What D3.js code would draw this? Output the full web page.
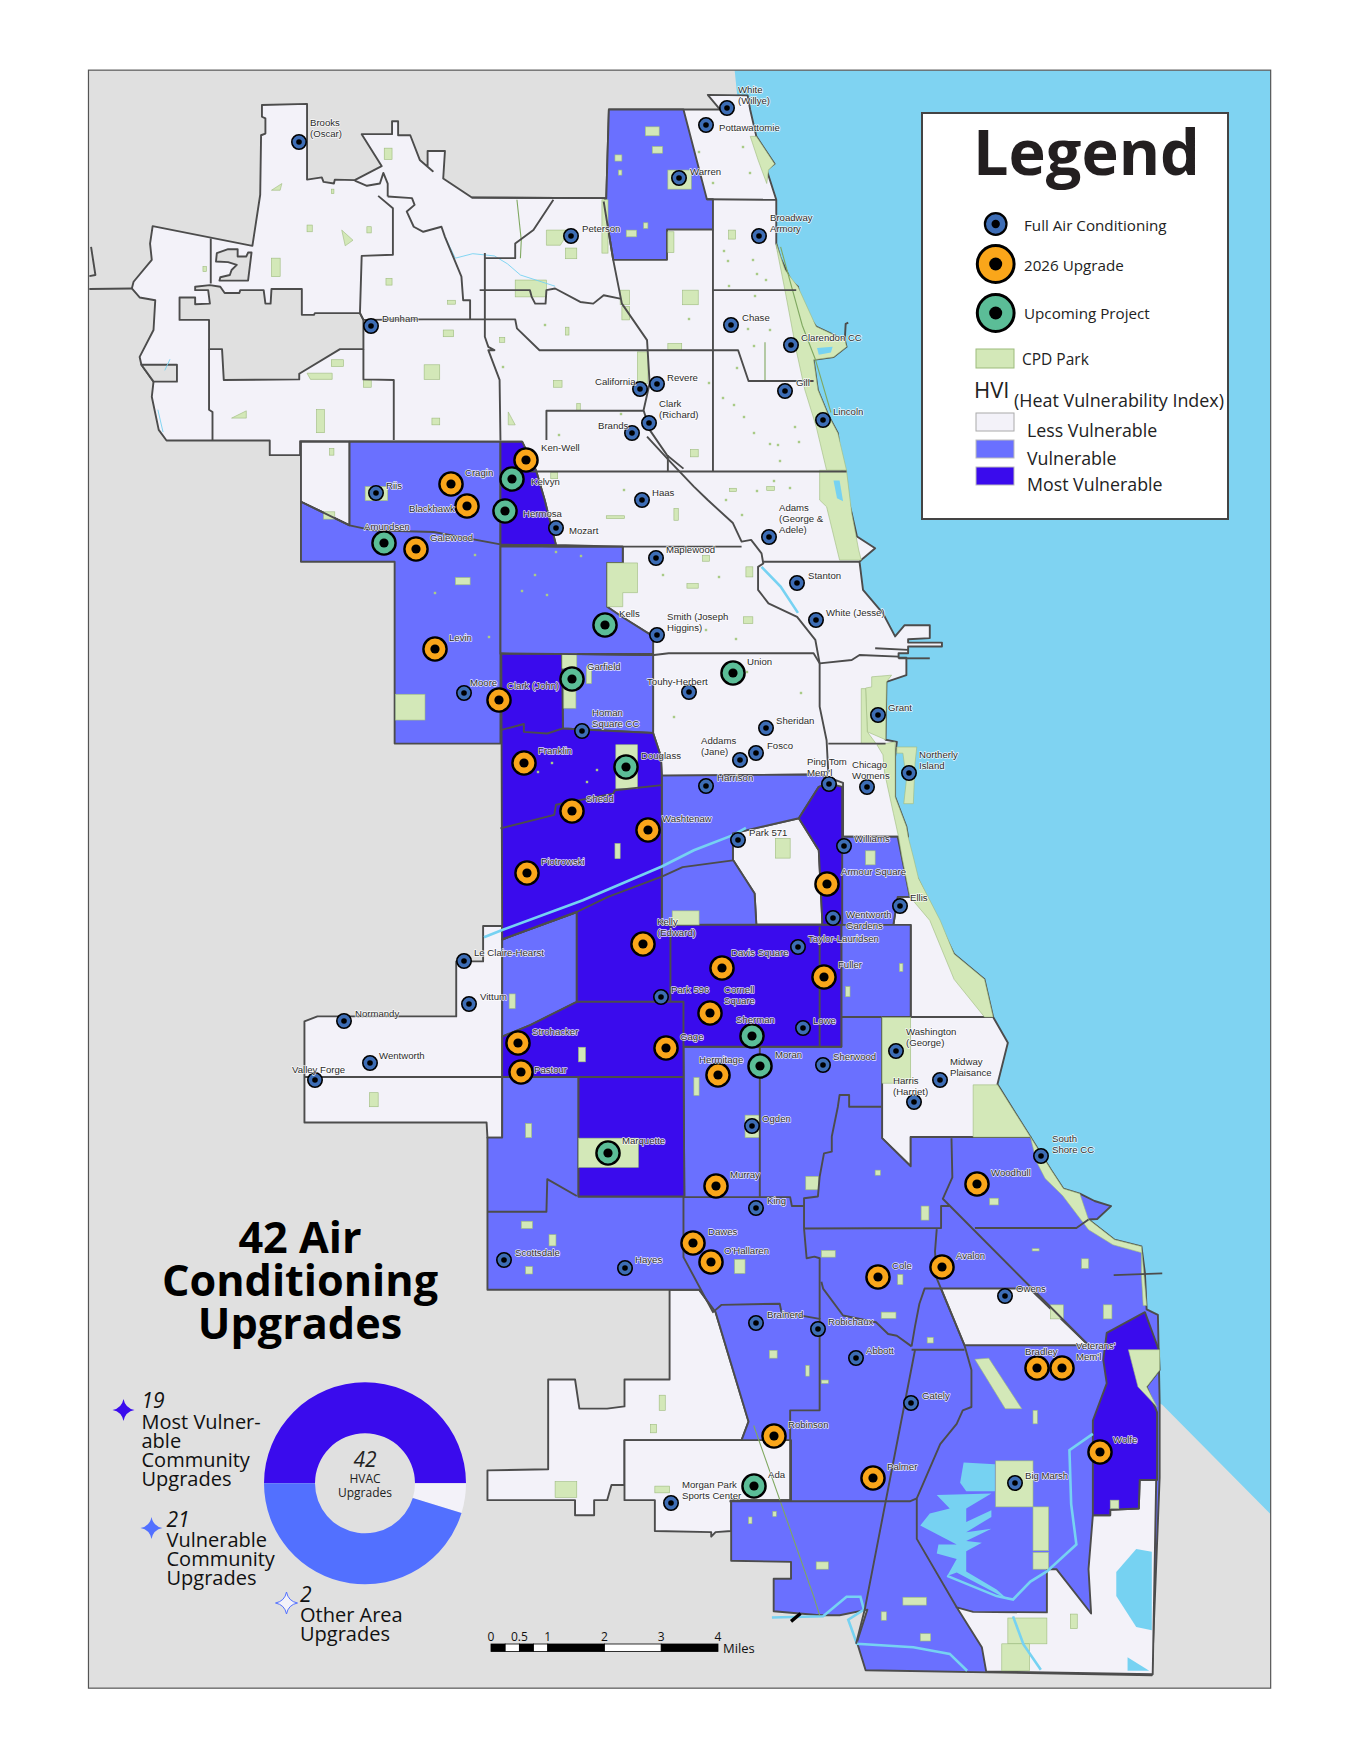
<!DOCTYPE html>
<html>
<head>
<meta charset="utf-8">
<script src="https://cdn.jsdelivr.net/npm/d3@7"></script>
<style>
  body { margin: 0; background: #fff; }
  svg { display: block; }
  text { font-family: "Open Sans", "Noto Sans", sans-serif; }
  .site-label { font-family: "Liberation Sans", Arial, sans-serif; font-size: 9.6px; fill: #2b2b2b;
    stroke: #fff; stroke-width: 1.4px; stroke-opacity: 0.85; paint-order: stroke; stroke-linejoin: round; }
</style>
</head>
<body>
<svg id="map" width="1360" height="1760"></svg>
<script>
// boundaries are in survey sheet units, sites and park dots are in page units
const lake = [[847,125],[1465,125],[1465,2698],[1340,2503],[1336,2500],[1325,2340],[1300,2300],[1270,2200],[1190,2100],[1140,2026],[1130,1820],[1030,1700],[1040,1568],[1025,1490],[1020,1330],[1020,1215],[1000,1100],[985,1000],[965,905],[955,840],[940,735],[925,680],[915,580],[900,510],[890,440],[880,355],[860,250],[850,170]];

const lessAreas = [
  [[176,403],[173,434],[175,463],[154,502],[152,514],[161,530],[179,535],[177,588],[161,636],[163,650],[177,680],[175,707],[183,766],[192,785],[311,785],[311,811],[346,811],[346,786],[577,787],[602,787],[618,838],[628,891],[641,971],[718,974],[718,1003],[700,1003],[700,1081],[717,1099],[753,1134],[753,1306],[762,1348],[763,1382],[948,1380],[955,1385],[972,1395],[972,1491],[1047,1491],[1045,1473],[1032,1420],[1032,1348],[1034,1322],[1021,1318],[1022,1215],[1045,1203],[1045,1172],[1036,1172],[1036,1164],[1047,1164],[1047,1152],[1086,1152],[1086,1145],[1047,1145],[1047,1139],[1072,1137],[1072,1114],[1043,1114],[1032,1134],[1018,1093],[995,1051],[991,1001],[995,995],[1009,977],[988,956],[982,915],[972,855],[966,772],[955,740],[943,695],[938,641],[961,636],[976,618],[974,606],[941,582],[924,546],[920,511],[912,500],[900,460],[895,434],[895,356],[884,303],[893,292],[872,243],[865,196],[862,170],[816,169],[830,195],[788,195],[702,195],[699,353],[544,352],[511,318],[513,269],[493,269],[493,297],[499,305],[484,285],[473,241],[459,241],[459,216],[452,216],[452,239],[417,239],[440,296],[409,321],[386,320],[385,327],[373,324],[371,316],[354,320],[354,185],[302,187],[302,208],[306,211],[306,238],[301,241],[300,347],[291,438]],
  [[347,787],[403,787],[403,936],[347,894]],
  [[845,1485],[921,1458],[944,1515],[948,1639],[948,1647],[872,1647],[870,1592],[845,1532]],
  [[1035,1598],[1049,1598],[1058,1565],[1075,1620],[1100,1700],[1135,1745],[1145,1812],[1050,1812],[1050,1648],[1030,1648]],
  [[1017,1812],[1145,1812],[1162,1858],[1150,1932],[1188,2026],[1050,2026],[1050,2078],[1017,2028]],
  [[557,1650],[579,1650],[579,2027],[562,2027],[561,2000],[351,2000],[351,1820],[366,1811],[526,1811],[526,1713],[557,1713]],
  [[772,2298],[806,2298],[825,2338],[863,2533],[855,2566],[720,2566],[720,2646],[705,2646],[700,2673],[685,2673],[685,2700],[663,2700],[663,2673],[562,2673],[562,2620],[632,2618],[632,2458],[663,2458],[668,2510],[700,2510],[720,2506],[720,2458],[772,2458]],
  [[720,2566],[912,2566],[912,2673],[843,2673],[843,2728],[825,2730],[820,2738],[820,2730],[755,2728],[755,2673],[720,2673]]
];

const vulnerableAreas = [
  [[702,195],[788,195],[815,355],[822,355],[822,409],[769,409],[769,463],[707,463],[696,359],[699,353]],
  [[347,894],[403,936],[403,787],[577,787],[577,1325],[455,1325],[455,1001],[347,1001]],
  [[577,974],[718,974],[718,1003],[700,1003],[700,1081],[717,1099],[753,1134],[753,1165],[577,1165]],
  [[648,1165],[753,1167],[753,1306],[649,1298]],
  [[763,1382],[948,1380],[956,1396],[944,1402],[921,1458],[845,1485],[845,1532],[870,1592],[872,1647],[763,1648]],
  [[970,1491],[1035,1491],[1049,1598],[1035,1598],[1030,1648],[970,1648]],
  [[579,1674],[665,1625],[665,1785],[612,1826],[579,1847]],
  [[579,1919],[667,1919],[667,2132],[789,2132],[788,1865],[970,1865],[970,1648],[1050,1648],[1050,1812],[1017,1812],[1017,2028],[1050,2078],[1050,2026],[1188,2026],[1212,2085],[1226,2118],[1245,2127],[1262,2140],[1281,2149],[1265,2172],[1255,2173],[1285,2209],[1316,2221],[1320,2268],[1322,2333],[1335,2343],[1337,2498],[1337,2633],[1328,2985],[998,2976],[988,2926],[1000,2868],[968,2878],[945,2878],[892,2871],[892,2813],[912,2813],[912,2783],[843,2781],[843,2673],[912,2673],[912,2566],[855,2566],[863,2533],[825,2338],[806,2298],[562,2298],[562,2027],[579,2027]]
];

const southLessAreas = [
  [[1085,2296],[1187,2296],[1255,2397],[1112,2397]],
  [[1260,2700],[1280,2700],[1280,2690],[1313,2688],[1314,2637],[1333,2637],[1329,2983],[1137,2978],[1132,2935],[1103,2864],[1122,2872],[1207,2873],[1207,2796],[1218,2796],[1258,2875],[1255,2796]]
];

const mostAreas = [
  [[577,787],[602,787],[618,838],[628,891],[641,971],[577,971]],
  [[578,1165],[648,1165],[649,1298],[753,1306],[762,1348],[763,1382],[763,1648],[970,1648],[970,1865],[788,1865],[789,2132],[667,2132],[667,1919],[579,1919],[579,1847],[612,1826],[665,1785],[665,1625],[579,1674]],
  [[921,1458],[944,1402],[956,1396],[971,1402],[971,1648],[948,1647],[948,1639],[944,1515]],
  [[1276,2375],[1320,2338],[1336,2405],[1337,2441],[1322,2471],[1334,2516],[1334,2637],[1314,2637],[1313,2688],[1280,2690],[1280,2700],[1260,2700],[1260,2531],[1276,2465],[1272,2423]]
];

const notCity = [
  [[348,515],[313,515],[312,541],[306,541],[304,517],[277,517],[276,522],[259,522],[254,511],[242,508],[225,511],[225,517],[240,517],[242,541],[225,542],[225,530],[207,530],[207,570],[241,570],[241,622],[256,622],[258,677],[345,676],[345,666],[392,622],[419,622],[419,570],[415,558],[363,558],[362,561],[348,561]],
  [[163,650],[204,650],[204,680],[177,680]],
  [[250,451],[263,444],[274,444],[274,457],[284,457],[286,450],[290,450],[286,500],[253,500],[254,494],[265,490],[267,481],[273,472],[263,467],[249,466]]
];

const borderLines = [
  [[409,322],[423,331],[438,327],[442,308],[447,327],[447,350]], [[436,349],[453,371],[453,454],[417,456],[415,558]],
  [[447,350],[475,353],[478,365],[469,377],[477,404],[488,413],[509,404],[513,422],[532,493],[534,535],[542,535],[542,569]],
  [[415,558],[419,570],[488,569],[594,569],[596,585],[622,624],[851,624],[863,679],[938,679]],
  [[638,356],[615,410],[594,434],[594,460],[559,460]], [[559,451],[559,600],[563,618],[570,624],[563,624],[576,677],[577,785]],
  [[553,517],[611,517],[613,529],[617,541],[629,541],[630,517],[640,514],[669,538],[684,541],[696,526],[715,532]],
  [[696,359],[707,463],[717,541],[746,606],[749,683],[742,731],[749,766],[769,811],[788,835]],
  [[544,352],[699,353]], [[815,355],[895,356]], [[822,409],[822,840]], [[822,517],[918,517]],
  [[243,425],[243,505]], [[241,622],[241,730],[245,734],[245,785]], [[419,622],[419,676],[454,677],[454,784]],
  [[630,784],[630,732],[742,732]], [[770,811],[770,840]], [[611,840],[976,840]],
  [[746,778],[771,820],[800,867],[816,891],[845,932],[855,965],[866,962],[878,986],[880,1004],[874,1010],[874,1051],[886,1075],[919,1099],[940,1140],[945,1182],[945,1259],[953,1319],[955,1378]],
  [[880,1001],[991,1001]], [[955,1325],[1021,1325]],
  [[347,894],[403,936],[430,945],[500,948],[577,970],[641,974],[855,974]],
  [[577,1164],[754,1167],[771,1164],[938,1164],[945,1182],[982,1176],[991,1167],[1036,1170]],
  [[1009,1155],[1047,1158]], [[1036,1173],[1072,1173]],
  [[103,515],[152,514]], [[105,440],[110,490],[103,492]],
  [[577,1301],[604,1290],[604,1304],[631,1307],[649,1298]],
  [[577,1476],[639,1452],[641,1434],[707,1414],[709,1408],[763,1399]],
  [[579,1674],[665,1625],[701,1598],[763,1562],[787,1545],[845,1533]],
  [[665,1785],[788,1785],[788,1865]], [[773,1648],[773,1785]], [[945,1651],[945,1865]],
  [[351,1919],[788,1919]], [[876,1865],[876,2133]], [[970,1812],[1016,1812]],
  [[562,2159],[630,2159],[631,2101],[665,2131]],
  [[788,2132],[788,2240],[822,2338],[832,2325],[899,2323],[901,2338],[945,2350],[945,2513],[911,2513],[911,2673]],
  [[788,2133],[911,2133],[913,2149],[927,2149],[927,2189],[930,2242],[939,2239],[945,2242],[945,2350]],
  [[927,2149],[927,2135],[943,2132],[945,2097],[950,2055],[959,2052],[959,2025],[966,1972],[968,1951],[979,1951],[979,1972],[1016,1972]],
  [[927,2189],[1085,2188],[1085,2149],[1095,2149]],
  [[1097,2028],[1098,2098],[1087,2136],[1255,2397]], [[1124,2188],[1241,2188],[1255,2173]],
  [[1080,2190],[1078,2230],[1080,2278],[1112,2397],[1120,2441],[1120,2507],[1110,2513],[1103,2537],[1084,2573],[1057,2670],[1057,2742],[1103,2864]],
  [[1085,2296],[1066,2296],[1060,2323],[1055,2363],[1051,2399]], [[1051,2405],[1112,2405]],
  [[947,2284],[949,2296],[972,2344],[1010,2356],[1024,2377],[1034,2380],[1051,2399]],
  [[1055,2405],[997,2868],[987,2929]], [[841,2675],[1049,2675],[1057,2670]],
  [[1284,2272],[1340,2269]],
  [[974,606],[975,577],[978,575]]
];

const greenLines = [
  [[596,356],[601,428],[600,460]], [[869,2540],[938,2844],[945,2878]], [[882,610],[882,680]],
  [[900,440],[925,580],[940,640],[958,735]]
];

const blackMark = [[912,2889],[923,2875]];

const waterLines = [
  [[558,1670],[579,1657],[672,1604],[763,1544],[800,1515],[845,1488],[860,1475]],
  [[1260,2555],[1233,2584],[1235,2680],[1241,2752],[1207,2800],[1188,2818],[1168,2850],[1149,2844],[1092,2808]],
  [[890,2882],[949,2880],[976,2845],[992,2845],[996,2868],[978,2886],[988,2929],[1053,2935],[1095,2947],[1115,2977]],
  [[1168,2880],[1180,2930],[1200,2975]], [[878,1010],[900,1045],[920,1092]]
];

const waterThin = [
  [[513,422],[525,460],[545,452],[570,456],[585,470],[600,490],[640,510]],
  [[196,640],[190,660]], [[182,730],[188,770]]
];

const waterShapes = [
  [[1111,2606],[1147,2609],[1147,2657],[1114,2657],[1107,2642]],
  [[1080,2664],[1143,2661],[1114,2688],[1114,2712],[1143,2691],[1143,2703],[1114,2730],[1143,2724],[1114,2746],[1132,2749],[1114,2764],[1114,2800],[1149,2832],[1162,2850],[1103,2802],[1092,2808],[1103,2778],[1080,2768],[1082,2752],[1103,2752],[1061,2718],[1072,2697],[1095,2688]],
  [[1287,2801],[1310,2760],[1328,2765],[1328,2905],[1310,2899],[1287,2844]],
  [[1300,2953],[1325,2977],[1300,2977]]
];

const parkRects = [
  [744,226,760,242],[752,261,764,273],[709,276,717,287],[713,303,717,312],[770,303,797,337],[742,397,747,407],[722,410,734,422],[770,413,777,450],
  [652,442,665,461],[694,356,701,451],[715,517,726,543],[717,546,726,570],[787,517,805,543],[770,612,786,624],[735,627,747,683],[638,678,648,690],
  [796,801,805,814],[840,410,848,426],[665,719,669,731],[652,583,656,597],[576,601,582,610],[594,499,630,529],
  [313,460,323,493],[489,650,507,676],[498,745,507,757],[419,677,428,690],[445,496,452,508],[516,535,525,542],[511,588,523,600],
  [382,641,396,653],[365,730,374,771],[380,799,385,811],[443,264,452,284],[423,404,428,415],[354,401,360,413],[234,475,238,484],[382,337,385,345],
  [421,867,447,892],[373,912,386,925],[525,1029,542,1042],[456,1237,490,1283],[635,842,643,853],[699,919,720,924],[777,906,782,927],
  [841,870,849,876],[884,867,893,874],[857,1099,868,1111],[860,1010,868,1028],[810,990,818,1000],[792,1040,805,1048],
  [648,1165,665,1191],[676,1188,682,1218],[650,1218,664,1262],[710,1327,735,1405],[709,1503,715,1530],[894,1494,911,1529],
  [998,1516,1009,1541],[775,1623,806,1648],[800,1920,806,1952],[587,1771,594,1797],[667,1866,675,1892],[426,1947,436,1972],
  [601,2176,614,2189],[633,2200,641,2220],[606,2257,614,2270],[847,2244,859,2269],[606,2002,613,2027],[859,1987,876,2027],
  [929,2096,944,2120],[1009,2085,1015,2094],[1037,1717,1041,1731],[975,1758,980,1776],[1017,1813,1050,1930],[667,2028,736,2080],
  [1062,2149,1071,2174],[1141,2135,1151,2147],[947,2228,963,2240],[1016,2338,1033,2349],[1035,2271,1041,2289],[1191,2513,1196,2537],
  [1211,2325,1226,2350],[1272,2325,1282,2350],[1247,2243,1255,2260],[1190,2225,1198,2229],[887,2406,896,2420],[929,2433,933,2452],
  [947,2459,955,2465],[1069,2383,1076,2393],[941,2783,955,2796],[863,2703,867,2715],[891,2693,895,2702],[1061,2911,1073,2924],
  [1016,2872,1022,2887],[1041,2846,1068,2860],[1234,2876,1242,2902],[1280,2673,1290,2688],[1148,2603,1191,2685],[1191,2685,1209,2763],
  [1191,2766,1209,2796],[1162,2883,1207,2929],[1155,2929,1187,2977],[760,2486,767,2513],[750,2538,757,2553],[755,2648,772,2660],[640,2640,665,2668]
];

const parkShapes = [
  [[865,243],[872,243],[893,292],[886,303],[884,327],[874,285]],
  [[895,434],[905,481],[920,511],[941,582],[974,606],[976,618],[961,636],[938,641],[943,695],[955,740],[966,772],[976,838],[953,838],[941,760],[928,695],[918,624],[905,517],[895,439]],
  [[945,838],[976,838],[982,915],[990,980],[993,998],[968,998],[953,903],[945,891]],
  [[700,1003],[735,1003],[735,1056],[718,1056],[718,1081],[700,1081]],
  [[1005,1206],[1028,1203],[1022,1215],[1021,1318],[1000,1304],[998,1226],[1005,1224]],
  [[993,1227],[998,1227],[1000,1304],[1010,1325],[993,1325]],
  [[1034,1331],[1057,1331],[1055,1360],[1053,1432],[1042,1432],[1045,1390],[1041,1342],[1034,1342]],
  [[1011,1327],[1032,1322],[1032,1420],[1045,1473],[1047,1491],[1053,1527],[1059,1565],[1084,1640],[1100,1700],[1135,1745],[1145,1812],[1135,1812],[1100,1745],[1072,1640],[1049,1598],[1040,1527],[1036,1491],[1030,1449],[1020,1378],[1018,1345]],
  [[1122,1933],[1150,1933],[1188,2026],[1122,2026]],
  [[1188,2026],[1212,2085],[1226,2118],[1245,2127],[1255,2173],[1285,2209],[1316,2221],[1322,2326],[1318,2326],[1316,2272],[1316,2232],[1283,2218],[1255,2191],[1225,2130],[1205,2100],[1195,2070]],
  [[1301,2405],[1337,2405],[1337,2441],[1322,2471],[1334,2507],[1312,2471]],
  [[1124,2422],[1140,2420],[1178,2510],[1159,2510]],
  [[394,410],[407,428],[398,438]], [[267,745],[284,732],[284,745]], [[354,665],[383,665],[383,676],[358,676]],
  [[586,734],[594,757],[586,757]], [[313,339],[325,327],[323,339]],
  [[630,410],[657,410],[646,437],[630,437]]
];

// lagoons that sit on top of the lakefront parks
const parkWater = [
  [[961,856],[968,856],[972,893],[965,888]],
  [[942,620],[960,618],[958,628],[944,632]]
];

const parkDots = [
  [699,152],[743,147],[750,173],[713,183],[724,251],[728,261],[753,260],[757,274],[766,280],[729,286],[755,296],[770,330],[748,329],[754,346],
  [737,368],[723,398],[734,405],[744,417],[754,433],[770,444],[778,445],[799,442],[780,461],[795,427],[709,383],[689,319],[545,325],[503,367],
  [559,435],[621,414],[624,490],[726,500],[742,515],[774,481],[757,491],[790,488],[663,575],[719,577],[706,630],[736,639],[801,693],[747,672],
  [674,717],[522,591],[547,595],[535,575],[581,556],[556,552],[475,555],[435,593],[489,637],[587,782],[597,770],[552,763],[538,772]
];

const fullAC = [
  { name: ['Brooks', '(Oscar)'], at: [299,142], text: [310,123] },
  { name: ['White', '(Willye)'], at: [727,108], text: [738,90] },
  { name: ['Pottawattomie'], at: [706,125], text: [719,128] },
  { name: ['Warren'], at: [679,178], text: [690,172] },
  { name: ['Peterson'], at: [571,236], text: [582,229] },
  { name: ['Broadway', 'Armory'], at: [759,236], text: [770,218] },
  { name: ['Chase'], at: [731,325], text: [742,318] },
  { name: ['Clarendon CC'], at: [791,345], text: [801,338] },
  { name: ['Dunham'], at: [371,326], text: [382,319] },
  { name: ['California'], at: [640,389], text: [595,382] },
  { name: ['Revere'], at: [657,384], text: [667,378] },
  { name: ['Gill'], at: [785,391], text: [796,383] },
  { name: ['Lincoln'], at: [823,420], text: [833,412] },
  { name: ['Clark', '(Richard)'], at: [649,423], text: [659,404] },
  { name: ['Brands'], at: [632,433], text: [598,426] },
  { name: ['Riis'], at: [376,493], text: [386,486] },
  { name: ['Haas'], at: [642,500], text: [652,493] },
  { name: ['Mozart'], at: [556,528], text: [569,531] },
  { name: ['Adams', '(George &', 'Adele)'], at: [769,537], text: [779,508] },
  { name: ['Maplewood'], at: [656,558], text: [666,550] },
  { name: ['Stanton'], at: [797,583], text: [808,576] },
  { name: ['White (Jesse)'], at: [816,620], text: [826,613] },
  { name: ['Smith (Joseph', 'Higgins)'], at: [657,635], text: [667,617] },
  { name: ['Moore'], at: [464,693], text: [470,683] },
  { name: ['Touhy-Herbert'], at: [689,692], text: [647,682] },
  { name: ['Homan', 'Square CC'], at: [582,731], text: [592,713] },
  { name: ['Sheridan'], at: [766,728], text: [776,721] },
  { name: ['Fosco'], at: [756,753], text: [767,746] },
  { name: ['Addams', '(Jane)'], at: [740,760], text: [701,741] },
  { name: ['Harrison'], at: [706,786], text: [717,778] },
  { name: ['Ping Tom', "Mem'l"], at: [829,784], text: [807,762] },
  { name: ['Chicago', 'Womens'], at: [867,787], text: [852,765] },
  { name: ['Northerly', 'Island'], at: [909,773], text: [919,755] },
  { name: ['Grant'], at: [878,715], text: [888,708] },
  { name: ['Park 571'], at: [738,840], text: [749,833] },
  { name: ['Williams'], at: [844,846], text: [854,839] },
  { name: ['Ellis'], at: [900,906], text: [910,898] },
  { name: ['Wentworth', 'Gardens'], at: [833,918], text: [846,915] },
  { name: ['Taylor-Lauridsen'], at: [798,947], text: [808,939] },
  { name: ['Le Claire-Hearst'], at: [464,961], text: [474,953] },
  { name: ['Vittum'], at: [469,1004], text: [480,997] },
  { name: ['Normandy'], at: [344,1021], text: [355,1014] },
  { name: ['Park 596'], at: [661,997], text: [671,990] },
  { name: ['Lowe'], at: [803,1028], text: [813,1021] },
  { name: ['Wentworth'], at: [370,1063], text: [379,1056] },
  { name: ['Valley Forge'], at: [315,1080], text: [292,1070] },
  { name: ['Sherwood'], at: [823,1065], text: [833,1057] },
  { name: ['Washington', '(George)'], at: [896,1051], text: [906,1032] },
  { name: ['Midway', 'Plaisance'], at: [940,1080], text: [950,1062] },
  { name: ['Harris', '(Harriet)'], at: [914,1102], text: [893,1081] },
  { name: ['Ogden'], at: [752,1126], text: [762,1119] },
  { name: ['South', 'Shore CC'], at: [1041,1156], text: [1052,1139] },
  { name: ['King'], at: [756,1208], text: [767,1201] },
  { name: ['Scottsdale'], at: [504,1260], text: [515,1253] },
  { name: ['Hayes'], at: [625,1268], text: [635,1260] },
  { name: ['Owens'], at: [1005,1296], text: [1016,1289] },
  { name: ['Brainerd'], at: [756,1323], text: [767,1315] },
  { name: ['Robichaux'], at: [818,1329], text: [828,1322] },
  { name: ['Abbott'], at: [856,1358], text: [866,1351] },
  { name: ['Gately'], at: [911,1403], text: [922,1396] },
  { name: ['Big Marsh'], at: [1015,1483], text: [1025,1476] },
  { name: ['Morgan Park', 'Sports Center'], at: [671,1503], text: [682,1485] }
];

const upgrades2026 = [
  { name: ['Ken-Well'], at: [526,460], text: [541,448] },
  { name: ['Cragin'], at: [451,484], text: [465,473] },
  { name: ['Blackhawk'], at: [467,506], text: [409,509] },
  { name: ['Galewood'], at: [416,549], text: [430,538] },
  { name: ['Levin'], at: [435,649], text: [449,638] },
  { name: ['Clark (John)'], at: [499,700], text: [507,686] },
  { name: ['Franklin'], at: [524,763], text: [538,751] },
  { name: ['Shedd'], at: [572,811], text: [586,799] },
  { name: ['Washtenaw'], at: [648,830], text: [662,819] },
  { name: ['Piotrowski'], at: [527,873], text: [541,862] },
  { name: ['Armour Square'], at: [827,884], text: [841,872] },
  { name: ['Kelly', '(Edward)'], at: [643,944], text: [657,922] },
  { name: ['Davis Square'], at: [722,968], text: [731,953] },
  { name: ['Fuller'], at: [824,977], text: [838,965] },
  { name: ['Cornell', 'Square'], at: [710,1013], text: [724,990] },
  { name: ['Strohacker'], at: [518,1043], text: [532,1032] },
  { name: ['Gage'], at: [666,1048], text: [680,1037] },
  { name: ['Pastour'], at: [521,1072], text: [534,1070] },
  { name: ['Hermitage'], at: [718,1075], text: [699,1060] },
  { name: ['Murray'], at: [716,1186], text: [730,1175] },
  { name: ['Dawes'], at: [693,1243], text: [708,1232] },
  { name: ["O'Hallaren"], at: [711,1262], text: [724,1251] },
  { name: ['Cole'], at: [878,1277], text: [892,1266] },
  { name: ['Woodhull'], at: [977,1184], text: [991,1173] },
  { name: ['Avalon'], at: [942,1267], text: [956,1256] },
  { name: ['Robinson'], at: [774,1436], text: [788,1425] },
  { name: ['Palmer'], at: [873,1478], text: [887,1467] },
  { name: ['Bradley'], at: [1037,1368], text: [1025,1352] },
  { name: ['Veterans\'', "Mem'l"], at: [1062,1368], text: [1076,1346] },
  { name: ['Wolfe'], at: [1100,1452], text: [1113,1440] }
];

const upcoming = [
  { name: ['Kelvyn'], at: [512,479], text: [531,482] },
  { name: ['Hermosa'], at: [505,511], text: [523,514] },
  { name: ['Amundsen'], at: [384,543], text: [364,527] },
  { name: ['Kells'], at: [605,625], text: [619,614] },
  { name: ['Garfield'], at: [572,679], text: [587,667] },
  { name: ['Union'], at: [733,673], text: [747,662] },
  { name: ['Douglass'], at: [626,767], text: [641,756] },
  { name: ['Sherman'], at: [752,1036], text: [736,1020] },
  { name: ['Moran'], at: [760,1066], text: [775,1055] },
  { name: ['Marquette'], at: [608,1153], text: [622,1141] },
  { name: ['Ada'], at: [754,1486], text: [768,1475] }
];

const titleLines = ['42 Air', 'Conditioning', 'Upgrades'];
const donutParts = ['most', 'other', 'vulnerable'];
const donutShares = [21, 2, 19];
const scaleMiles = [0, 0.5, 1, 2, 3, 4];
const scaleSegments = [0, 0.25, 0.5, 0.75, 1, 2, 3, 4];

const colors = {
  land: '#e0e0e0', lake: '#7fd3f2', less: '#f3f2f9', vulnerable: '#6a70ff', most: '#3a0bed',
  line: '#4c4c4c', park: '#d3e8b8', parkLine: '#9dbb7d', water: '#76d2f2'
};

const svg = d3.select('#map');
const sheetX = d3.scaleLinear().domain([0, 1568]).range([0, 1360]);
const sheetY = d3.scaleLinear().domain([0, 3136]).range([0, 1760]);
const pageX = d3.scaleIdentity();
const pageY = d3.scaleIdentity();

const closed = d3.line().x((d) => sheetX(d[0])).y((d) => sheetY(d[1])).curve(d3.curveLinearClosed);
const open = d3.line().x((d) => sheetX(d[0])).y((d) => sheetY(d[1]));

const frame = { x: sheetX(102), y: sheetY(125), w: sheetX(1465) - sheetX(102), h: sheetY(3008) - sheetY(125) };

svg.append('defs').append('clipPath').attr('id', 'frame-clip')
  .append('rect').attr('x', frame.x).attr('y', frame.y).attr('width', frame.w).attr('height', frame.h);

const mapG = svg.append('g').attr('clip-path', 'url(#frame-clip)');
mapG.append('rect').attr('x', frame.x).attr('y', frame.y).attr('width', frame.w).attr('height', frame.h).attr('fill', colors.land);
mapG.append('path').attr('d', closed(lake)).attr('fill', colors.lake);

const fillAreas = (areas, fill) => {
  mapG.append('g').selectAll('path').data(areas).join('path')
    .attr('d', closed).attr('fill', fill)
    .attr('stroke', colors.line).attr('stroke-width', 1.9).attr('stroke-linejoin', 'round');
};

fillAreas(lessAreas, colors.less);
fillAreas(vulnerableAreas, colors.vulnerable);
fillAreas(southLessAreas, colors.less);
fillAreas(mostAreas, colors.most);
fillAreas(notCity, colors.land);

mapG.append('g').selectAll('path').data(waterShapes).join('path')
  .attr('d', closed).attr('fill', colors.water);

mapG.append('g').selectAll('path').data(parkShapes).join('path')
  .attr('d', closed).attr('fill', colors.park).attr('stroke', colors.parkLine).attr('stroke-width', 0.6);

mapG.append('g').selectAll('rect').data(parkRects).join('rect')
  .attr('x', (d) => sheetX(d[0])).attr('y', (d) => sheetY(d[1]))
  .attr('width', (d) => sheetX(d[2] - d[0])).attr('height', (d) => sheetY(d[3] - d[1]))
  .attr('fill', colors.park).attr('stroke', colors.parkLine).attr('stroke-width', 0.6);

mapG.append('g').selectAll('path').data(parkWater).join('path')
  .attr('d', closed).attr('fill', colors.water);

mapG.append('g').selectAll('rect').data(parkDots).join('rect')
  .attr('x', (d) => pageX(d[0]) - 1.2).attr('y', (d) => pageY(d[1]) - 1.2)
  .attr('width', 2.4).attr('height', 2.4).attr('fill', '#a9cb87');

mapG.append('g').selectAll('path').data(waterLines).join('path')
  .attr('d', open).attr('fill', 'none').attr('stroke', colors.water).attr('stroke-width', 2.6);

mapG.append('g').selectAll('path').data(waterThin).join('path')
  .attr('d', open).attr('fill', 'none').attr('stroke', colors.water).attr('stroke-width', 0.9);

mapG.append('g').selectAll('path').data(greenLines).join('path')
  .attr('d', open).attr('fill', 'none').attr('stroke', '#7fa860').attr('stroke-width', 1.1);

mapG.append('g').selectAll('path').data(borderLines).join('path')
  .attr('d', open).attr('fill', 'none').attr('stroke', colors.line)
  .attr('stroke-width', 1.9).attr('stroke-linejoin', 'round');

mapG.append('path').attr('d', open(blackMark)).attr('stroke', '#000').attr('stroke-width', 3.4).attr('fill', 'none');

svg.append('rect').attr('x', frame.x).attr('y', frame.y).attr('width', frame.w).attr('height', frame.h)
  .attr('fill', 'none').attr('stroke', '#555').attr('stroke-width', 1.2);

// site markers, the smaller ones go under the big ones
const drawSites = (sites, fill, r, dot, sw) => {
  const g = svg.append('g');
  g.selectAll('circle.ring').data(sites).join('circle').attr('class', 'ring')
    .attr('cx', (d) => pageX(d.at[0])).attr('cy', (d) => pageY(d.at[1])).attr('r', r)
    .attr('fill', fill).attr('stroke', '#000').attr('stroke-width', sw);
  g.selectAll('circle.dot').data(sites).join('circle').attr('class', 'dot')
    .attr('cx', (d) => pageX(d.at[0])).attr('cy', (d) => pageY(d.at[1])).attr('r', dot).attr('fill', '#000');
};
drawSites(fullAC, '#3d6db5', 7.2, 2.8, 1.6);
drawSites(upgrades2026, '#faa61a', 11.6, 4.6, 2.4);
drawSites(upcoming, '#5bbd97', 11.6, 4.6, 2.4);

const labels = svg.append('g');
fullAC.concat(upgrades2026, upcoming).forEach((s) => {
  const t = labels.append('text').attr('class', 'site-label');
  s.name.forEach((line, i) => {
    t.append('tspan').attr('x', pageX(s.text[0])).attr('y', pageY(s.text[1]) + 3.4 + i * 11).text(line);
  });
});

// legend
const legend = svg.append('g');
legend.append('rect').attr('x', 922).attr('y', 113).attr('width', 306).attr('height', 406)
  .attr('fill', '#fff').attr('stroke', '#444').attr('stroke-width', 2);
legend.append('text').attr('x', 973).attr('y', 175).attr('font-size', 63).attr('font-weight', 700).attr('fill', '#231f20').text('Legend');

const legendSites = [
  { fill: '#3d6db5', r: 10.8, dot: 4.2, sw: 2.2, y: 224, text: 'Full Air Conditioning', ty: 231 },
  { fill: '#faa61a', r: 18.4, dot: 6.5, sw: 3, y: 264, text: '2026 Upgrade', ty: 271 },
  { fill: '#5bbd97', r: 18.4, dot: 6.5, sw: 3, y: 313, text: 'Upcoming Project', ty: 319 }
];
legendSites.forEach((s) => {
  legend.append('circle').attr('cx', 995.7).attr('cy', s.y).attr('r', s.r)
    .attr('fill', s.fill).attr('stroke', '#000').attr('stroke-width', s.sw);
  legend.append('circle').attr('cx', 995.7).attr('cy', s.y).attr('r', s.dot).attr('fill', '#000');
  legend.append('text').attr('x', 1024).attr('y', s.ty).attr('font-size', 15.2).attr('fill', '#222').text(s.text);
});

const legendBoxes = [
  { y: 349, h: 19, fill: colors.park, stroke: colors.parkLine, text: 'CPD Park', tx: 1022, ty: 365, size: 15.5 },
  { y: 413, h: 18, fill: colors.less, stroke: '#aaa', text: 'Less Vulnerable', tx: 1027, ty: 437, size: 17.8 },
  { y: 440, h: 18, fill: colors.vulnerable, stroke: '#bbb', text: 'Vulnerable', tx: 1027, ty: 465, size: 17.8 },
  { y: 467, h: 18, fill: colors.most, stroke: '#bbb', text: 'Most Vulnerable', tx: 1027, ty: 491, size: 17.8 }
];
legendBoxes.forEach((b) => {
  legend.append('rect').attr('x', 976).attr('y', b.y).attr('width', 38).attr('height', b.h)
    .attr('fill', b.fill).attr('stroke', b.stroke);
  legend.append('text').attr('x', b.tx).attr('y', b.ty).attr('font-size', b.size).attr('fill', '#222').text(b.text);
});
legend.append('text').attr('x', 974).attr('y', 398).attr('font-size', 22).attr('fill', '#222').text('HVI');
legend.append('text').attr('x', 1014).attr('y', 406.5).attr('font-size', 17.9).attr('fill', '#222').text('(Heat Vulnerability Index)');

// big title
const titleY = d3.scalePoint().domain(titleLines).range([1253, 1339]);
svg.append('g').selectAll('text').data(titleLines).join('text')
  .attr('x', 300).attr('y', (d) => titleY(d)).attr('text-anchor', 'middle')
  .attr('font-size', 43.2).attr('font-weight', 700).attr('fill', '#000').text((d) => d);

// donut
const donutColor = d3.scaleOrdinal().domain(donutParts).range(['#3a0bed', colors.less, '#5270ff']);
const pie = d3.pie().sort(null).startAngle(-Math.PI / 2).endAngle(1.5 * Math.PI);
const arc = d3.arc().innerRadius(50).outerRadius(101);
const donut = svg.append('g').attr('transform', 'translate(365,1483.3)');
donut.selectAll('path').data(pie(donutShares)).join('path')
  .attr('d', arc).attr('fill', (d, i) => donutColor(donutParts[i]));
donut.append('text').attr('y', -16).attr('text-anchor', 'middle').attr('font-size', 21).attr('font-style', 'italic').attr('fill', '#222').text('42');
donut.append('text').attr('y', 0).attr('text-anchor', 'middle').attr('font-size', 12).attr('fill', '#222').text('HVAC');
donut.append('text').attr('y', 14).attr('text-anchor', 'middle').attr('font-size', 12).attr('fill', '#222').text('Upgrades');

const starPath = (r) => {
  const k = r * 0.16;
  return `M0,${-r}Q${k},${-k} ${r},0Q${k},${k} 0,${r}Q${-k},${k} ${-r},0Q${-k},${-k} 0,${-r}Z`;
};
const callouts = [
  { star: [123.5, 1410], fill: '#3a0bed', stroke: 'none', num: '19', x: 141.5, y: 1408, lines: ['Most Vulner-', 'able', 'Community', 'Upgrades'], first: 1429 },
  { star: [151.5, 1528], fill: '#5270ff', stroke: 'none', num: '21', x: 166.5, y: 1527, lines: ['Vulnerable', 'Community', 'Upgrades'], first: 1547 },
  { star: [286.5, 1603], fill: '#f3f2f9', stroke: '#5270ff', num: '2', x: 300, y: 1602, lines: ['Other Area', 'Upgrades'], first: 1622 }
];
callouts.forEach((c) => {
  svg.append('path').attr('transform', `translate(${c.star})`).attr('d', starPath(11))
    .attr('fill', c.fill).attr('stroke', c.stroke);
  svg.append('text').attr('x', c.x).attr('y', c.y).attr('font-size', 21).attr('font-style', 'italic').attr('fill', '#111').text(c.num);
  c.lines.forEach((l, i) => {
    svg.append('text').attr('x', c.x).attr('y', c.first + i * 19).attr('font-size', 20).attr('fill', '#111').text(l);
  });
});

// scale bar
const miles = d3.scaleLinear().domain([0, 4]).range([491, 718]);
const bar = svg.append('g');
d3.pairs(scaleSegments).forEach(([a, b], i) => {
  bar.append('rect').attr('x', miles(a)).attr('y', 1644).attr('width', miles(b) - miles(a)).attr('height', 7.5)
    .attr('fill', i % 2 === 0 ? '#000' : '#fff').attr('stroke', '#000').attr('stroke-width', 0.8);
});
bar.selectAll('text.tick').data(scaleMiles).join('text').attr('class', 'tick')
  .attr('x', (d) => miles(d)).attr('y', 1641).attr('text-anchor', 'middle').attr('font-size', 12).attr('fill', '#111').text((d) => d);
bar.append('text').attr('x', 723).attr('y', 1653).attr('font-size', 13).attr('fill', '#111').text('Miles');
</script>
</body>
</html>
